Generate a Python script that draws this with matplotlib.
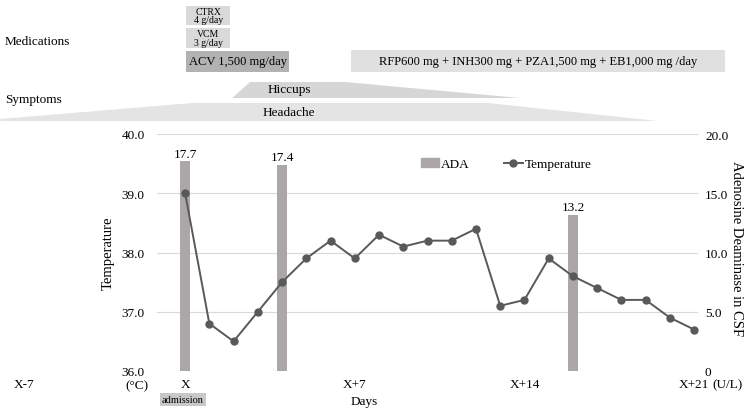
import numpy as np
import matplotlib
matplotlib.use("Agg")
import matplotlib.pyplot as plt
from matplotlib.patches import Rectangle, Polygon
from matplotlib.lines import Line2D
from matplotlib.transforms import blended_transform_factory

plt.rcParams['font.family'] = ['Liberation Serif', 'DejaVu Serif']
plt.rcParams['font.size'] = 9.5

#---------datos----------------
dias = np.arange(0, 22)
temperatura = [39.0, 36.8, 36.5, 37.0, 37.5, 37.9, 38.2, 37.9, 38.3, 38.1, 38.2,
               38.2, 38.4, 37.1, 37.2, 37.9, 37.6, 37.4, 37.2, 37.2, 36.9, 36.7]
ada_dias = [0, 4, 16]
ada = [17.7, 17.4, 13.2]

xticks = [0, 7, 14, 21]
xlabels = ["X", "X+7", "X+14", "X+21"]

# medicamentos: (texto, inicio dia, fin dia)
medicamentos = [("CTRX\n4 g/day", 0.04, 1.86),
                ("VCM\n3 g/day", 0.04, 1.86),
                ("ACV 1,500 mg/day", 0.04, 4.29),
                ("RFP600 mg + INH300 mg + PZA1,500 mg + EB1,000 mg /day", 6.85, 22.27)]
# sintomas (dias de la forma)
hipo_x = [1.94, 2.68, 6.6, 13.82]
cefalea_x = [-7.63, -7.63, 0.29, 12.5, 19.5]

W, H = 750, 410
fig = plt.figure(figsize=(7.5, 4.1), dpi=100)
ax = fig.add_axes([157 / W, 1 - 372 / H, (698 - 157) / W, (372 - 135) / H])
ax2 = ax.twinx()
ax.set_zorder(2)
ax2.set_zorder(1)
ax.patch.set_visible(False)

#---------barras ADA----------
barras = ax2.bar(ada_dias, ada, width=0.4, color='#aba7a7', zorder=2)
ax2.bar_label(barras, fmt='%.1f', padding=1, fontsize=9.5)
ax2.set_ylim(0, 20)
ax2.set_yticks([0, 5, 10, 15, 20])
ax2.set_yticklabels(["0", "5.0", "10.0", "15.0", "20.0"])
ax2.grid(axis='y', color='#d9d9d9', lw=0.8, zorder=0)
ax2.set_ylabel("Adenosine Deaminase in CSF", rotation=270, fontsize=10.5)
ax2.yaxis.set_label_coords(1.083, 0.52)

#---------temperatura----------
ax.plot(dias, temperatura, color='#595959', lw=1.4, marker='o', ms=5)
ax.set_ylim(36, 40)
ax.set_yticks([36, 37, 38, 39, 40])
ax.set_yticklabels(["36.0", "37.0", "38.0", "39.0", "40.0"])
ax.set_xlim(-1.16, 21.16)
ax.set_xticks(xticks)
ax.set_xticklabels(xlabels)
ax.set_ylabel("Temperature", fontsize=10.5)
ax.yaxis.set_label_coords(-0.079, 0.5)
ax.set_xlabel("Days", fontsize=9.5)
ax.xaxis.set_label_coords(0.383, -0.1)

for a in (ax, ax2):
    for s in a.spines.values():
        s.set_visible(False)
    a.tick_params(length=0)
ax.tick_params(axis='y', pad=9)
ax.tick_params(axis='x', pad=5)
ax2.tick_params(axis='y', pad=5)

ax.text(-0.037, -0.062, "(°C)", transform=ax.transAxes, ha='center', va='center')
ax.text(1.055, -0.055, "(U/L)", transform=ax.transAxes, ha='center', va='center')
bt = blended_transform_factory(ax.transData, ax.transAxes)
ax.text(-6.65, -0.055, "X-7", transform=bt, ha='center', va='center', clip_on=False)
ax.text(-0.1, -0.12, "admission", transform=bt, ha='center', va='center', fontsize=7.5,
        bbox=dict(facecolor='#c8c8c8', edgecolor='none', pad=1.5))

#---------leyenda----------
h1 = Rectangle((0, 0), 1, 1, color='#aba7a7')
h2 = Line2D([], [], color='#595959', lw=1.4, marker='o', ms=5)
ax.legend([h1, h2], ["ADA", "Temperature"], loc='center', bbox_to_anchor=(0.645, 0.873),
          ncol=2, frameon=False, handlelength=1.4, handleheight=0.6, handletextpad=0.15,
          columnspacing=2.6, fontsize=9.5)

#---------parte superior----------
tf = blended_transform_factory(ax.transData, fig.transFigure)
def fy(px):
    return 1 - px / H

fig.text(5 / W, fy(42), "Medications", ha='left', va='center', fontsize=9.5)
fig.text(5 / W, fy(100), "Symptoms", ha='left', va='center', fontsize=9.5)

filas = [(7, 26, '#d9d9d9', 7), (29, 49, '#d9d9d9', 7),
         (52, 73, '#b2b2b2', 9), (51, 73, '#e0e0e0', 9)]
for (txt, d0, d1), (y0, y1, col, fs) in zip(medicamentos, filas):
    ax.add_patch(Rectangle((d0, fy(y1)), d1 - d0, fy(y0) - fy(y1), transform=tf,
                           facecolor=col, edgecolor='none', clip_on=False))
    ax.text((d0 + d1) / 2, (fy(y0) + fy(y1)) / 2, txt, transform=tf, ha='center',
            va='center', fontsize=fs, linespacing=0.9, clip_on=False)

cef_y = [122, 120, 104, 104, 122]
ax.add_patch(Polygon(list(zip(cefalea_x, [fy(v) for v in cef_y])), closed=True,
                     transform=tf, facecolor='#e4e4e4', edgecolor='none', clip_on=False))
hip_y = [99, 83, 83, 99]
ax.add_patch(Polygon(list(zip(hipo_x, [fy(v) for v in hip_y])), closed=True,
                     transform=tf, facecolor='#d6d6d6', edgecolor='none', clip_on=False))
ax.text(4.3, fy(113), "Headache", transform=tf, ha='center', va='center', fontsize=9.5)
ax.text(4.3, fy(90), "Hiccups", transform=tf, ha='center', va='center', fontsize=9.5)

fig.savefig("out.png", dpi=100)
